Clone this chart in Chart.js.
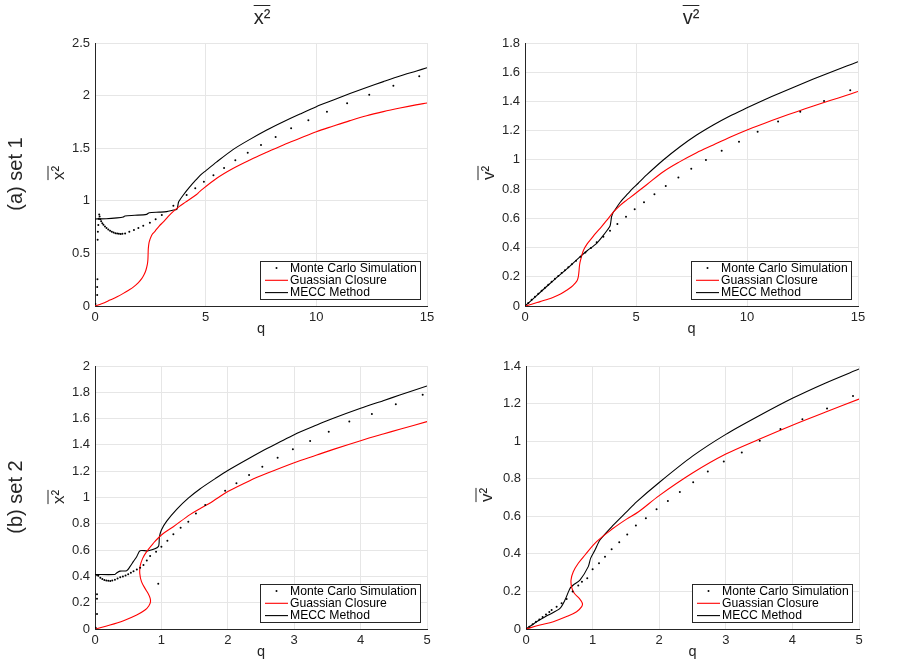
<!DOCTYPE html>
<html>
<head>
<meta charset="utf-8">
<script src="https://cdn.jsdelivr.net/npm/chart.js@4.4.1/dist/chart.umd.min.js"></script>
<style>
  html, body { margin: 0; padding: 0; background: #fff; }
  #wrap { position: relative; width: 900px; height: 665px; background: #fff; overflow: hidden; }
  .panel { position: absolute; }
  .lbl { position: absolute; color: #262626; font-family: "Liberation Sans", Arial, sans-serif; white-space: nowrap; transform: translate(-50%, -50%); line-height: 1; }
  .rot { transform: translate(-50%, -50%) rotate(-90deg); }
  .ov { text-decoration: overline; text-decoration-thickness: 1px; }
</style>
</head>
<body>
<div id="wrap">
  <div class="panel" style="left:0;top:0;width:450px;height:340px"><canvas id="g1"></canvas></div>
  <div class="panel" style="left:450px;top:0;width:450px;height:340px"><canvas id="g2"></canvas></div>
  <div class="panel" style="left:0;top:330px;width:450px;height:335px"><canvas id="g3"></canvas></div>
  <div class="panel" style="left:450px;top:330px;width:450px;height:335px"><canvas id="g4"></canvas></div>

  <div class="lbl" style="left:262px;top:17px;font-size:20px"><span class="ov">x²</span></div>
  <div class="lbl" style="left:691px;top:17px;font-size:20px"><span class="ov">v²</span></div>

  <div class="lbl rot" style="left:15px;top:174px;font-size:20px">(a) set 1</div>
  <div class="lbl rot" style="left:15px;top:497px;font-size:20px">(b) set 2</div>

  <div class="lbl rot" style="left:58px;top:173px;font-size:17px"><span class="ov">x²</span></div>
  <div class="lbl rot" style="left:488px;top:173px;font-size:17px"><span class="ov">v²</span></div>
  <div class="lbl rot" style="left:58px;top:497px;font-size:17px"><span class="ov">x²</span></div>
  <div class="lbl rot" style="left:486px;top:495px;font-size:17px"><span class="ov">v²</span></div>
</div>

<script>
// tick values
const q_ticks_set1 = [0, 5, 10, 15];
const q_ticks_set2 = [0, 1, 2, 3, 4, 5];
const x2_ticks_set1 = [0, 0.5, 1, 1.5, 2, 2.5];
const v2_ticks_set1 = [0, 0.2, 0.4, 0.6, 0.8, 1, 1.2, 1.4, 1.6, 1.8];
const x2_ticks_set2 = [0, 0.2, 0.4, 0.6, 0.8, 1, 1.2, 1.4, 1.6, 1.8, 2];
const v2_ticks_set2 = [0, 0.2, 0.4, 0.6, 0.8, 1, 1.2, 1.4];

const series_names = ['Monte Carlo Simulation', 'Guassian Closure', 'MECC Method'];

// (a) set 1, x^2   -- pairs [q, value]
const set1_x2_mc = [
  [0.02,0.02],[0.1,0.105],[0.1,0.18],[0.11,0.255],[0.12,0.63],[0.13,0.705],[0.15,0.77],[0.17,0.83],
  [0.19,0.87],[0.21,0.85],[0.24,0.825],[0.28,0.805],[0.33,0.787],[0.38,0.772],[0.45,0.755],[0.52,0.741],
  [0.6,0.728],[0.68,0.716],[0.76,0.706],[0.84,0.698],[0.92,0.692],[1.0,0.688],[1.08,0.686],[1.16,0.685],
  [1.24,0.686],[1.36,0.69],[1.55,0.706],[1.76,0.722],[1.96,0.741],[2.18,0.763],[2.48,0.792],[2.74,0.824],
  [3.02,0.865],[3.54,0.954],[4.14,1.055],[4.53,1.12],[4.92,1.182],[5.35,1.242],[5.83,1.312],[6.34,1.385],
  [6.9,1.457],[7.5,1.53],[8.16,1.606],[8.86,1.689],[9.64,1.765],[10.48,1.847],[11.39,1.927],[12.39,2.009],
  [13.48,2.094],[14.65,2.183]
];
const set1_x2_gauss = [
  [0,0],[0.3,0.022],[0.68,0.057],[1.0,0.088],[1.28,0.12],[1.5,0.148],[1.73,0.18],[1.95,0.22],[2.11,0.26],
  [2.22,0.3],[2.3,0.34],[2.36,0.39],[2.39,0.44],[2.4,0.5],[2.41,0.55],[2.44,0.6],[2.48,0.63],[2.58,0.68],
  [2.71,0.71],[2.9,0.76],[3.09,0.8],[3.3,0.85],[3.54,0.9],[3.8,0.945],[4.07,0.985],[4.59,1.06],[4.74,1.09],
  [5.5,1.214],[6.25,1.309],[7.0,1.388],[7.76,1.461],[8.51,1.53],[9.26,1.594],[10,1.657],[10.77,1.711],
  [11.52,1.762],[12.27,1.809],[13.03,1.848],[13.78,1.882],[14.5,1.912],[15,1.93]
];
const set1_x2_mecc = [
  [0,0.827],[0.5,0.83],[1.0,0.838],[1.28,0.846],[1.35,0.856],[1.8,0.862],[2.33,0.871],[2.45,0.887],
  [2.9,0.892],[3.24,0.897],[3.5,0.91],[3.7,0.919],[3.74,0.95],[3.78,0.99],[3.99,1.055],[4.29,1.134],
  [4.56,1.198],[4.74,1.24],[5.0,1.285],[5.5,1.37],[6.25,1.489],[7.0,1.584],[7.76,1.673],[8.51,1.752],
  [9.26,1.825],[10,1.895],[10.77,1.958],[11.52,2.02],[12.27,2.078],[13.03,2.133],[13.78,2.186],
  [14.53,2.234],[15,2.265]
];

// (a) set 1, v^2
const set1_v2_mc = [
  [0,0],[0.15,0.02],[0.3,0.042],[0.45,0.063],[0.6,0.084],[0.75,0.105],[0.9,0.125],[1.05,0.146],[1.2,0.166],
  [1.35,0.186],[1.5,0.206],[1.65,0.226],[1.8,0.245],[1.95,0.265],[2.11,0.286],[2.3,0.31],[2.5,0.337],
  [2.72,0.366],[2.97,0.397],[3.23,0.436],[3.53,0.474],[3.83,0.515],[4.16,0.561],[4.55,0.611],[4.94,0.662],
  [5.36,0.71],[5.83,0.764],[6.34,0.821],[6.91,0.88],[7.49,0.94],[8.15,0.999],[8.86,1.063],[9.64,1.125],
  [10.48,1.193],[11.4,1.262],[12.4,1.33],[13.47,1.403],[14.65,1.476]
];
const set1_v2_gauss = [
  [0,0],[0.3,0.012],[0.68,0.03],[1.0,0.045],[1.28,0.06],[1.6,0.082],[1.88,0.108],[2.1,0.132],[2.25,0.155],
  [2.35,0.175],[2.4,0.2],[2.43,0.235],[2.45,0.27],[2.48,0.3],[2.53,0.33],[2.63,0.38],[2.8,0.425],[3.0,0.463],
  [3.2,0.5],[3.45,0.543],[3.7,0.59],[3.98,0.642],[4.3,0.69],[4.58,0.725],[4.73,0.742],[5.1,0.785],
  [5.48,0.83],[6.23,0.919],[6.98,0.988],[7.73,1.049],[8.48,1.102],[9.23,1.155],[10,1.205],[10.74,1.248],
  [11.49,1.29],[12.24,1.33],[12.99,1.369],[13.74,1.406],[14.49,1.442],[15,1.468]
];
const set1_v2_mecc = [
  [0,0],[0.5,0.068],[1.0,0.137],[1.5,0.204],[2.0,0.27],[2.45,0.333],[2.8,0.378],[3.23,0.429],[3.5,0.478],
  [3.71,0.52],[3.83,0.547],[3.87,0.58],[3.9,0.611],[3.97,0.64],[4.05,0.657],[4.3,0.712],[4.58,0.76],
  [4.73,0.785],[5.1,0.84],[5.48,0.897],[6.23,0.999],[6.98,1.09],[7.73,1.17],[8.48,1.239],[9.23,1.301],
  [10,1.356],[10.74,1.408],[11.49,1.458],[12.24,1.506],[12.99,1.553],[13.74,1.598],[14.49,1.642],[15,1.672]
];

// (b) set 2, x^2
const set2_x2_mc = [
  [0.01,0.01],[0.03,0.114],[0.03,0.23],[0.03,0.265],[0.03,0.41],[0.05,0.405],[0.08,0.39],[0.11,0.38],
  [0.14,0.372],[0.17,0.368],[0.2,0.366],[0.23,0.365],[0.26,0.368],[0.3,0.375],[0.34,0.384],[0.38,0.393],
  [0.42,0.4],[0.46,0.407],[0.5,0.416],[0.54,0.428],[0.58,0.44],[0.63,0.452],[0.68,0.465],[0.73,0.487],
  [0.78,0.52],[0.83,0.555],[0.92,0.588],[0.953,0.345],[1.0,0.626],[1.09,0.672],[1.18,0.72],[1.29,0.77],
  [1.405,0.816],[1.52,0.878],[1.66,0.943],[1.96,1.052],[2.13,1.108],[2.32,1.171],[2.52,1.234],[2.75,1.303],
  [2.98,1.367],[3.24,1.43],[3.52,1.5],[3.83,1.577],[4.17,1.635],[4.53,1.709],[4.935,1.782]
];
const set2_x2_gauss = [
  [0,0],[0.226,0.03],[0.43,0.063],[0.628,0.106],[0.753,0.144],[0.81,0.175],[0.835,0.205],[0.83,0.235],
  [0.8,0.27],[0.753,0.309],[0.7,0.36],[0.675,0.42],[0.68,0.48],[0.718,0.537],[0.778,0.588],[0.878,0.652],
  [1.0,0.715],[1.18,0.778],[1.43,0.87],[1.58,0.915],[1.707,0.95],[1.83,0.99],[2.0,1.045],[2.33,1.128],
  [2.59,1.184],[3.0,1.265],[3.34,1.323],[3.59,1.366],[4.0,1.432],[4.34,1.483],[4.59,1.519],[5.0,1.577]
];
const set2_x2_mecc = [
  [0,0.415],[0.3,0.415],[0.33,0.428],[0.377,0.44],[0.477,0.443],[0.527,0.474],[0.577,0.512],[0.628,0.55],
  [0.678,0.595],[0.803,0.595],[0.953,0.626],[0.97,0.7],[1.0,0.753],[1.08,0.82],[1.23,0.91],[1.405,0.995],
  [1.58,1.065],[1.83,1.15],[2.0,1.205],[2.33,1.3],[2.59,1.372],[3.0,1.478],[3.34,1.551],[3.59,1.602],
  [4.0,1.678],[4.34,1.736],[4.59,1.779],[5.0,1.848]
];

// (b) set 2, v^2
const set2_v2_mc = [
  [0,0],[0.05,0.012],[0.1,0.025],[0.15,0.038],[0.2,0.051],[0.25,0.064],[0.3,0.077],[0.35,0.09],[0.385,0.101],
  [0.46,0.119],[0.535,0.137],[0.61,0.16],[0.7,0.2],[0.785,0.232],[0.84,0.252],[0.92,0.27],[1.0,0.318],
  [1.096,0.35],[1.186,0.385],[1.286,0.424],[1.4,0.462],[1.52,0.503],[1.65,0.551],[1.8,0.589],[1.96,0.637],
  [2.13,0.681],[2.31,0.729],[2.51,0.781],[2.73,0.839],[2.97,0.891],[3.24,0.94],[3.51,1.002],[3.82,1.064],
  [4.15,1.116],[4.52,1.174],[4.91,1.24]
];
const set2_v2_gauss = [
  [0,0],[0.21,0.021],[0.41,0.039],[0.61,0.066],[0.76,0.092],[0.836,0.119],[0.846,0.137],[0.8,0.163],
  [0.725,0.19],[0.686,0.222],[0.676,0.261],[0.71,0.305],[0.785,0.35],[0.886,0.394],[1.06,0.465],[1.31,0.536],
  [1.51,0.585],[1.69,0.624],[2.0,0.71],[2.5,0.83],[3.0,0.931],[3.5,1.01],[4.0,1.085],[4.5,1.155],[5.0,1.224]
];
const set2_v2_mecc = [
  [0,0],[0.16,0.039],[0.335,0.074],[0.51,0.11],[0.585,0.154],[0.66,0.216],[0.71,0.234],[0.81,0.26],
  [0.935,0.332],[0.97,0.376],[1.036,0.42],[1.11,0.474],[1.31,0.553],[1.51,0.624],[1.66,0.677],[2.0,0.78],
  [2.5,0.92],[3.0,1.036],[3.5,1.135],[4.0,1.228],[4.5,1.31],[5.0,1.384]
];

const AXIS_COLOR = '#262626';
const GRID_COLOR = '#e6e6e6';
const FONT = '"Liberation Sans", Arial, sans-serif';

function pontos(pares) {
  return pares.map(p => ({ x: p[0], y: p[1] }));
}

// legend box drawn inside the plot, lower right corner
const caixa_legenda = {
  id: 'caixaLegenda',
  afterDraw(chart) {
    const { ctx, chartArea } = chart;
    const w = 160, h = 38;
    const x = Math.round(chartArea.right - 7 - w);
    const y = Math.round(chartArea.bottom - 7 - h);
    ctx.save();
    ctx.fillStyle = '#fff';
    ctx.fillRect(x, y, w, h);
    ctx.strokeStyle = AXIS_COLOR;
    ctx.lineWidth = 1;
    ctx.strokeRect(x + 0.5, y + 0.5, w, h);
    ctx.font = '12.2px ' + FONT;
    ctx.textBaseline = 'middle';
    chart.data.datasets.forEach((ds, i) => {
      const cy = y + 7 + i * 12.3;
      if (ds.showLine) {
        ctx.strokeStyle = ds.borderColor;
        ctx.lineWidth = 1.1;
        ctx.beginPath();
        ctx.moveTo(x + 5, cy);
        ctx.lineTo(x + 28, cy);
        ctx.stroke();
      } else {
        ctx.fillStyle = '#000';
        ctx.beginPath();
        ctx.arc(x + 16.5, cy, 1, 0, Math.PI * 2);
        ctx.fill();
      }
      ctx.fillStyle = '#000';
      ctx.fillText(ds.label, x + 30, cy + 0.5);
    });
    ctx.restore();
  }
};

function fmt(v) {
  return String(Math.round(v * 100) / 100);
}

function exibir_grafico(id, cfg) {
  new Chart(document.getElementById(id), {
    type: 'scatter',
    data: {
      datasets: [
        { label: series_names[0], data: pontos(cfg.mc), showLine: false,
          pointRadius: 1, pointHoverRadius: 1, pointBackgroundColor: '#000', pointBorderWidth: 0 },
        { label: series_names[1], data: pontos(cfg.gauss), showLine: true,
          borderColor: '#ff0000', borderWidth: 1.1, pointRadius: 0, tension: 0.35 },
        { label: series_names[2], data: pontos(cfg.mecc), showLine: true,
          borderColor: '#000000', borderWidth: 1.1, pointRadius: 0, tension: 0.25 }
      ]
    },
    options: {
      responsive: true,
      maintainAspectRatio: false,
      animation: false,
      events: [],
      layout: { padding: cfg.pad },
      plugins: { legend: { display: false }, tooltip: { enabled: false } },
      scales: {
        x: {
          type: 'linear', min: cfg.qTicks[0], max: cfg.qTicks[cfg.qTicks.length - 1],
          afterBuildTicks: s => { s.ticks = cfg.qTicks.map(v => ({ value: v })); },
          afterFit: s => { s.height = 32; },
          grid: { color: GRID_COLOR, drawTicks: false },
          border: { color: AXIS_COLOR, width: 1 },
          ticks: { color: AXIS_COLOR, padding: 4, font: { family: FONT, size: 13 },
                   maxRotation: 0, autoSkip: false, callback: fmt },
          title: { display: true, text: 'q', color: AXIS_COLOR, padding: 0,
                   font: { family: FONT, size: 14.5 } }
        },
        y: {
          type: 'linear', min: cfg.yTicks[0], max: cfg.yTicks[cfg.yTicks.length - 1],
          afterBuildTicks: s => { s.ticks = cfg.yTicks.map(v => ({ value: v })); },
          afterFit: s => { s.width = 60; },
          grid: { color: GRID_COLOR, drawTicks: false },
          border: { color: AXIS_COLOR, width: 1 },
          ticks: { color: AXIS_COLOR, padding: 5, font: { family: FONT, size: 13 },
                   autoSkip: false, callback: fmt }
        }
      }
    },
    plugins: [caixa_legenda]
  });
}

exibir_grafico('g1', { mc: set1_x2_mc, gauss: set1_x2_gauss, mecc: set1_x2_mecc,
  qTicks: q_ticks_set1, yTicks: x2_ticks_set1, pad: { left: 35, right: 23, top: 43, bottom: 2 } });
exibir_grafico('g2', { mc: set1_v2_mc, gauss: set1_v2_gauss, mecc: set1_v2_mecc,
  qTicks: q_ticks_set1, yTicks: v2_ticks_set1, pad: { left: 15, right: 42, top: 43, bottom: 2 } });
exibir_grafico('g3', { mc: set2_x2_mc, gauss: set2_x2_gauss, mecc: set2_x2_mecc,
  qTicks: q_ticks_set2, yTicks: x2_ticks_set2, pad: { left: 35, right: 23, top: 36, bottom: 4 } });
exibir_grafico('g4', { mc: set2_v2_mc, gauss: set2_v2_gauss, mecc: set2_v2_mecc,
  qTicks: q_ticks_set2, yTicks: v2_ticks_set2, pad: { left: 16, right: 41, top: 36, bottom: 4 } });
</script>
</body>
</html>
